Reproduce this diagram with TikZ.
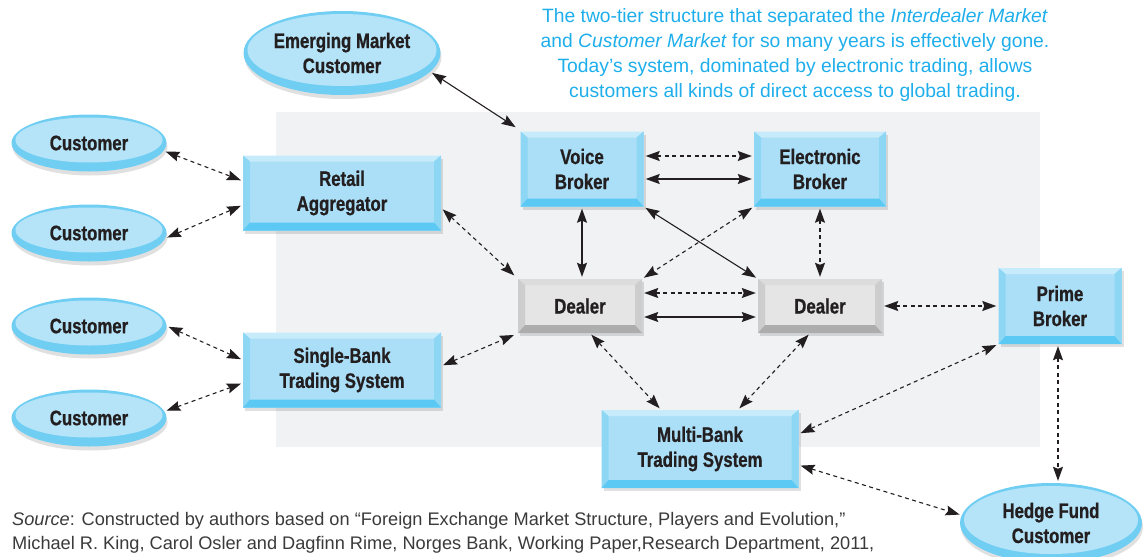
\documentclass[tikz,border=0pt]{standalone}
\usepackage{fontspec}
\setmainfont{Liberation Sans}
\newfontfamily\boxfont[FakeStretch=0.8, FakeBold=0.8]{Liberation Sans}
\usepackage{tikz}
\usetikzlibrary{arrows.meta,calc,shadows,shapes.geometric}

\definecolor{blueface}{HTML}{ABDFF7}
\definecolor{bluetop}{HTML}{C6EBFA}
\definecolor{blueside}{HTML}{8DD7F5}
\definecolor{bluebottom}{HTML}{5BC9F3}
\definecolor{grayface}{HTML}{E5E5E6}
\definecolor{graytop}{HTML}{DCDCDD}
\definecolor{grayside}{HTML}{CDCDCE}
\definecolor{graybottom}{HTML}{ADADAE}
\definecolor{custface}{HTML}{B5E4F9}
\definecolor{custrim}{HTML}{70CEF3}
\definecolor{panelgray}{HTML}{F1F2F4}
\definecolor{notecyan}{RGB}{30,174,235}
\definecolor{sourcegray}{HTML}{3A3A3A}
\definecolor{inkblack}{HTML}{231F20}

\newcommand\boxbevel[3]{%
	\path (path picture bounding box.north west) coordinate (o1)
		(path picture bounding box.north east) coordinate (o2)
		(path picture bounding box.south east) coordinate (o3)
		(path picture bounding box.south west) coordinate (o4);
	\path ([shift={(7pt,-6pt)}]o1) coordinate (i1) ([shift={(-7pt,-6pt)}]o2) coordinate (i2)
		([shift={(-7pt,8pt)}]o3) coordinate (i3) ([shift={(7pt,8pt)}]o4) coordinate (i4);
	\fill[#1] (o1) -- (o2) -- (i2) -- (i1) -- cycle;
	\fill[#2] (o1) -- (i1) -- (i4) -- (o4) -- cycle (o2) -- (i2) -- (i3) -- (o3) -- cycle;
	\fill[#3] (o4) -- (i4) -- (i3) -- (o3) -- cycle;}

\tikzset{
	boxtext/.style={font=\boxfont\bfseries\fontsize{21}{25}\selectfont, text=inkblack, align=center, inner sep=0pt},
	bluebox/.style={boxtext, rectangle, fill=blueface, path picture={\boxbevel{bluetop}{blueside}{bluebottom}},
		drop shadow={shadow xshift=2pt, shadow yshift=-3pt, fill=black, opacity=0.12}},
	graybox/.style={boxtext, rectangle, fill=grayface, minimum width=124pt, minimum height=54pt,
		path picture={\boxbevel{graytop}{grayside}{graybottom}},
		drop shadow={shadow xshift=2pt, shadow yshift=-3pt, fill=black, opacity=0.12}},
	custnode/.style={boxtext, ellipse, fill=custrim, minimum width=155pt, minimum height=57pt,
		path picture={\fill[custface] let \p1=(path picture bounding box.north east), \p2=(path picture bounding box.south west) in
			({(\x1+\x2)/2},{(\y1+\y2)/2+3pt}) ellipse [x radius={(\x1-\x2)/2-4pt}, y radius={(\y1-\y2)/2-6pt}];},
		drop shadow={shadow xshift=1pt, shadow yshift=-4pt, fill=black, opacity=0.12}},
	solidlink/.style={draw=inkblack, line width=1.1pt, {Stealth[length=14pt,width=10pt,inset=2pt]}-{Stealth[length=14pt,width=10pt,inset=2pt]},
		shorten <=2pt, shorten >=2pt},
	dashlink/.style={solidlink, dash pattern=on 4pt off 3.5pt}
}

\begin{document}
\begin{tikzpicture}[x=1pt, y=-1pt]
		\useasboundingbox (0,0) rectangle (1144,557);
		\fill[panelgray] (276,112) rectangle (1040,447);

		\node[font=\fontsize{19.3}{25.3}\selectfont, text=notecyan, align=center] (note) at (795,55) {The two-tier structure that separated the \textit{Interdealer Market}\\and \textit{Customer Market} for so many years is effectively gone.\\Today’s system, dominated by electronic trading, allows\\customers all kinds of direct access to global trading.};
		\node[font=\fontsize{18.2}{24}\selectfont, text=sourcegray, align=left, anchor=west, inner sep=0pt] (source) at (12,533) {\textit{Source}: Constructed by authors based on “Foreign Exchange Market Structure, Players and Evolution,”\\Michael R. King, Carol Osler and Dagfinn Rime, Norges Bank, Working Paper,Research Department, 2011,};

		\node[custnode, minimum width=197pt, minimum height=84pt] (emc) at (342,53) {Emerging Market\\Customer};
		\node[custnode] (c1) at (89,143) {Customer};
		\node[custnode] (c2) at (89,233) {Customer};
		\node[custnode] (c3) at (89,326) {Customer};
		\node[custnode] (c4) at (89,418) {Customer};
		\node[custnode, minimum width=182pt, minimum height=80pt] (hfc) at (1051,523) {Hedge Fund\\Customer};

		\node[bluebox, minimum width=198pt, minimum height=75pt] (ra) at (342,193) {Retail\\Aggregator};
		\node[bluebox, minimum width=198pt, minimum height=75pt] (sbts) at (342,370) {Single-Bank\\Trading System};
		\node[bluebox, minimum width=123pt, minimum height=75pt] (vb) at (582,169) {Voice\\Broker};
		\node[bluebox, minimum width=132pt, minimum height=75pt] (eb) at (820,169) {Electronic\\Broker};
		\node[graybox] (d1) at (580,306) {Dealer};
		\node[graybox] (d2) at (820,306) {Dealer};
		\node[bluebox, minimum width=123pt, minimum height=76pt] (pb) at (1060,306) {Prime\\Broker};
		\node[bluebox, minimum width=197pt, minimum height=78pt] (mbts) at (700,449) {Multi-Bank\\Trading System};

		\draw[solidlink] (emc.-12) -- ([shift={(-3pt,3pt)}]vb.north west);
		\draw[dashlink] (c1.-6) -- ([yshift=12pt]ra.west);
		\draw[dashlink] (c2.-4) -- ([yshift=-12pt]ra.west);
		\draw[dashlink] (c3.east) -- ([yshift=10pt]sbts.west);
		\draw[dashlink] (c4.5) -- ([yshift=-13pt]sbts.west);
		\draw[dashlink] ([yshift=-15pt]ra.east) -- ([shift={(-2pt,2pt)}]d1.north west);
		\draw[dashlink] ([yshift=4pt]sbts.east) -- ([shift={(-2pt,-1pt)}]d1.south west);
		\draw[dashlink] ([yshift=13pt]vb.east) -- ([yshift=13pt]eb.west);
		\draw[solidlink] ([yshift=-10pt]vb.east) -- ([yshift=-10pt]eb.west);
		\draw[solidlink] (vb.south) -- (vb.south |- d1.north);
		\draw[solidlink] (vb.south east) -- (d2.north west);
		\draw[dashlink] (eb.south west) -- (d1.north east);
		\draw[dashlink] (eb.south) -- (eb.south |- d2.north);
		\draw[dashlink] ([yshift=13pt]d1.east) -- ([yshift=13pt]d2.west);
		\draw[solidlink] ([yshift=-11pt]d1.east) -- ([yshift=-11pt]d2.west);
		\draw[dashlink] (d2.east) -- (pb.west);
		\draw[dashlink] ([xshift=10pt]d1.south) -- ([xshift=-39pt]mbts.north);
		\draw[dashlink] ([xshift=-10pt]d2.south) -- ([xshift=38pt]mbts.north);
		\draw[dashlink] (pb.south west) -- ([yshift=15pt]mbts.east);
		\draw[dashlink] ([xshift=-2pt]pb.south) -- ([xshift=-2pt]pb.south |- hfc.north);
		\draw[dashlink] ([yshift=-16pt]mbts.east) -- (hfc.175);

\end{tikzpicture}
\end{document}
